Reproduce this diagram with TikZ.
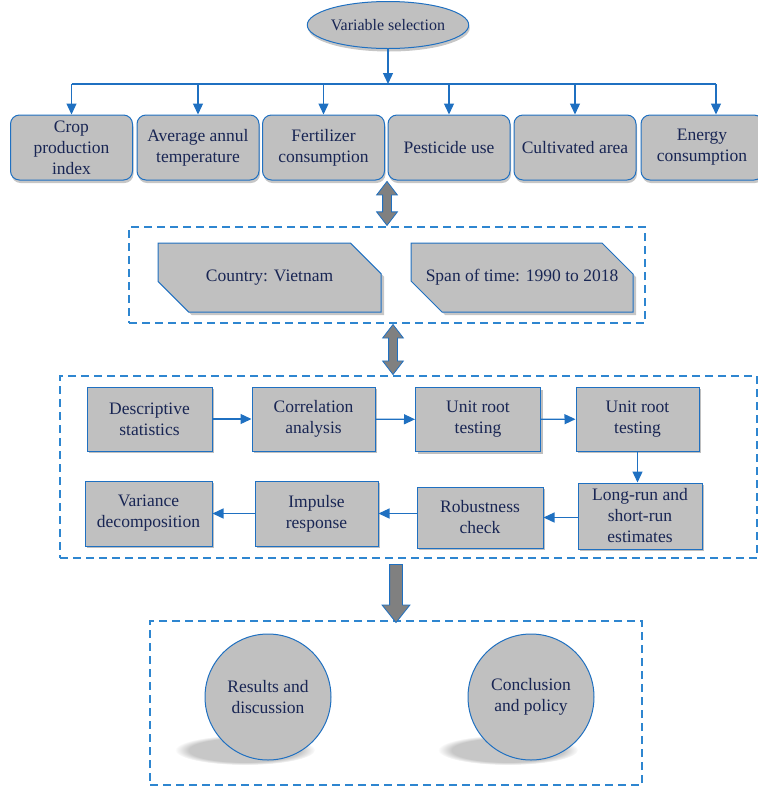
\documentclass[tikz,border=0pt]{standalone}
\usepackage{fontspec}
\setmainfont{Liberation Serif}
\usetikzlibrary{calc,shapes.geometric,shapes.misc,shapes.arrows,shadows,fadings,arrows.meta}
\definecolor{boxfill}{RGB}{192,192,192}
\definecolor{boxline}{RGB}{31,112,193}
\definecolor{dashline}{RGB}{46,134,208}
\definecolor{txt}{RGB}{25,38,84}
\definecolor{fatgray}{RGB}{128,128,128}

\begin{document}
\begin{tikzpicture}[x=1pt, y=-1pt,
		every node/.style={font=\rmfamily\fontsize{17.5}{21}\selectfont, text=txt},
		base/.style={draw=boxline, fill=boxfill, line width=1pt, align=center, inner sep=1pt},
		varbox/.style={base, rounded corners=9pt, minimum width=122pt, minimum height=65pt,
			drop shadow={shadow xshift=1pt, shadow yshift=-3pt, opacity=.45}},
		snipbox/.style={base, chamfered rectangle, chamfered rectangle corners={north east, south west},
			chamfered rectangle xsep=22pt, chamfered rectangle ysep=22pt,
			minimum width=223pt, minimum height=69pt,
			drop shadow={shadow xshift=3pt, shadow yshift=-3pt, opacity=.45}},
		stepbox/.style={base, minimum width=125pt, minimum height=64pt,
			drop shadow={shadow xshift=2pt, shadow yshift=-2pt, opacity=.5}},
		endcircle/.style={base, circle, minimum size=126pt},
		grpbox/.style={draw=dashline, line width=1.3pt, dash pattern=on 8pt off 5pt},
		flow/.style={draw=boxline, line width=1.3pt, -{Triangle[length=11pt, width=10pt]}},
		fat/.style={draw=boxline, fill=fatgray, line width=.8pt}
	]
	\useasboundingbox (0,0) rectangle (758,788);

	% variables
	\node[base, ellipse, minimum width=155pt, minimum height=47pt, inner sep=0pt,
		font=\rmfamily\fontsize{16}{19}\selectfont,
		drop shadow={shadow xshift=1pt, shadow yshift=-3pt, opacity=.45}] (var) at (388,25) {Variable selection};
	\coordinate (bus) at (388,84);
	\node[varbox] (b1) at (71.5,147.5) {Crop\\production\\index};
	\node[varbox] (b2) at (198,147.5) {Average annul\\temperature};
	\node[varbox] (b3) at (323.5,147.5) {Fertilizer\\consumption};
	\node[varbox] (b4) at (449,147.5) {Pesticide use};
	\node[varbox] (b5) at (575,147.5) {Cultivated area};
	\node[varbox] (b6) at (702,147.5) {Energy\\consumption};
	\draw[flow] (var.south) -- (bus);
	\draw[draw=boxline, line width=1.3pt] (bus -| b1.north) -- ([xshift=14pt]bus -| b6.north);
	\foreach \n in {b1,b2,b3,b4,b5}
		\draw[flow] (bus -| \n.north) -- (\n.north);
	\draw[flow] ([xshift=14pt]bus -| b6.north) -- ([xshift=14pt]b6.north);

	% data
	\node[grpbox, minimum width=516pt, minimum height=96pt] (grp1) at (387,275) {};
	\node[snipbox] (country) at (269.5,277.5) {Country: Vietnam};
	\node[snipbox, minimum width=222pt] (span) at (522,277.5) {Span of time: 1990 to 2018};
	\node[fat, double arrow, rotate=90, inner sep=4pt, minimum height=44pt,
		double arrow head extend=6pt, double arrow tip angle=75]
		at ($(grp1.north |- b3.south)!.5!(grp1.north)$) {};

	% methods
	\node[grpbox, minimum width=697pt, minimum height=182pt] (grp2) at (408.5,467) {};
	\node[stepbox] (desc) at (149.5,419) {Descriptive\\statistics};
	\node[stepbox, minimum width=123pt] (corr) at (313.5,419) {Correlation\\analysis};
	\node[stepbox] (unit1) at (478,419.5) {Unit root\\testing};
	\node[stepbox, minimum width=123pt] (unit2) at (637.5,419) {Unit root\\testing};
	\node[stepbox, minimum width=124pt, minimum height=66pt] (long) at (640,516) {Long-run and\\short-run\\estimates};
	\node[stepbox, minimum width=126pt, minimum height=61pt] (rob) at (480,517.5) {Robustness\\check};
	\node[stepbox, minimum width=123pt, minimum height=65pt] (imp) at (316.5,513.5) {Impulse\\response};
	\node[stepbox, minimum width=127pt, minimum height=65pt] (vard) at (148.5,513.5) {Variance\\decomposition};
	\draw[flow] (desc) -- (corr);
	\draw[flow] (corr) -- (unit1);
	\draw[flow] (unit1) -- (unit2);
	\draw[flow] (unit2) -- (unit2 |- long.north);
	\draw[flow] (long.west |- rob) -- (rob);
	\draw[flow] (rob.west |- imp) -- (imp);
	\draw[flow] (imp) -- (vard);
	\node[fat, double arrow, rotate=90, inner sep=4pt, minimum height=50pt,
		double arrow head extend=6pt, double arrow tip angle=75]
		at ($([xshift=6pt]grp1.south)!.5!([xshift=6pt]grp1.south |- grp2.north)$) {};

	% outcome
	\node[grpbox, minimum width=492pt, minimum height=164pt] (grp3) at (396,703) {};
	\node[fat, single arrow, rotate=-90, inner sep=6pt, minimum height=58pt,
		single arrow head extend=7.5pt, single arrow tip angle=77]
		at ($(grp3.north |- grp2.south)!.5!(grp3.north)$) {};
	\fill[black!22, path fading=circle with fuzzy edge 20 percent] (245,750) ellipse [x radius=70, y radius=15];
	\fill[black!22, path fading=circle with fuzzy edge 20 percent] (508,750) ellipse [x radius=70, y radius=15];
	\node[endcircle] (res) at (268,697) {Results and\\discussion};
	\node[endcircle] (conc) at (531,697) {Conclusion\\and policy};
\end{tikzpicture}
\end{document}
